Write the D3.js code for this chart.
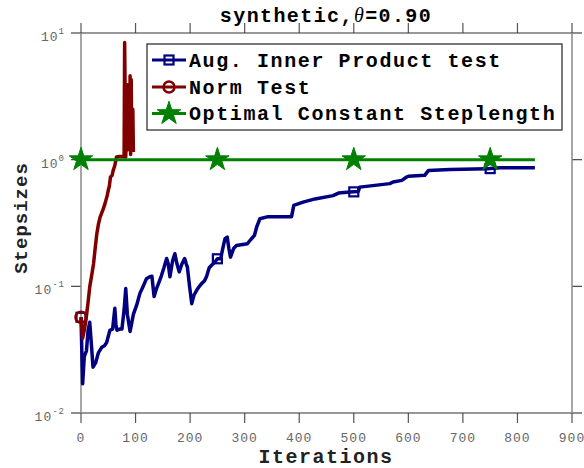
<!DOCTYPE html>
<html><head><meta charset="utf-8">
<script src="https://cdn.jsdelivr.net/npm/d3@7"></script>
<style>body{margin:0;background:#fff}svg{display:block}</style>
</head><body>
<svg id="c" width="584" height="468"></svg>
<script>
// ---- data ----
const seriesNames = ["Aug. Inner Product test", "Norm Test", "Optimal Constant Steplength"];
const blueIter = [0,3,6,10,13,16,19,22,27,32,38,43,47,53,58,62,64,66,71,75,79,82,85,90,96,102,108,114,120,126,130,134,138,142,147,152,157,160,163,168,172,176,180,185,190,193,195,199,203,207,212,217,221,226,230,235,239,245,250,256,260,264,268,271,274,280,285,305,310,318,322,328,343,386,390,407,429,462,472,493,500,508,511,566,572,588,597,600,630,637,676,744,750,768,832];
const blueVal  = [0.057,0.017,0.028,0.031,0.045,0.052,0.035,0.023,0.025,0.030,0.033,0.034,0.036,0.045,0.046,0.067,0.050,0.045,0.046,0.046,0.065,0.096,0.060,0.044,0.060,0.071,0.088,0.100,0.115,0.119,0.120,0.083,0.095,0.105,0.120,0.140,0.166,0.150,0.119,0.160,0.181,0.150,0.130,0.150,0.166,0.150,0.142,0.100,0.073,0.085,0.093,0.100,0.105,0.110,0.119,0.140,0.146,0.155,0.165,0.165,0.200,0.238,0.245,0.200,0.170,0.200,0.210,0.217,0.231,0.253,0.294,0.342,0.355,0.355,0.436,0.462,0.490,0.520,0.545,0.555,0.557,0.560,0.607,0.647,0.666,0.686,0.730,0.740,0.752,0.823,0.838,0.849,0.850,0.864,0.864];
const redIter = [0,3,6,9,13,16,20,23,26,29,32,35,40,44,48,50,52,54,57,59,62,65,70,77,79,80,82,83,85,86,88,89,90,91,92,93,95,96];
const redVal  = [0.057,0.039,0.045,0.054,0.075,0.099,0.125,0.151,0.200,0.260,0.310,0.352,0.400,0.450,0.520,0.573,0.620,0.730,0.750,0.823,0.900,1.050,1.060,1.060,1.050,8.400,1.050,1.500,3.900,1.200,2.000,1.300,4.600,1.100,4.300,1.300,2.500,1.150];
const greenIter = [0,250,500,750,832];
const greenVal  = [1,1,1,1,1];
const markerIters = [0,250,500,750];
const xTicks = [0,100,200,300,400,500,600,700,800,900];
const yTickExps = [-2,-1,0,1];

// ---- layout ----
const svg = d3.select("#c");
const L = 81, R = 572, T = 33, B = 413;
const x = d3.scaleLinear().domain([0,900]).range([L,R]);
const y = d3.scaleLog().domain([0.01,10]).range([B,T]);
const mono = "'Liberation Mono','DejaVu Sans Mono',monospace";

// ticks (outward on all four sides)
const tk = 10;
const g = svg.append("g");
xTicks.forEach(v=>{
  g.append("line").attr("x1",x(v)).attr("x2",x(v)).attr("y1",B).attr("y2",B+tk).attr("stroke","#555").attr("stroke-width",1.2);
  g.append("line").attr("x1",x(v)).attr("x2",x(v)).attr("y1",T).attr("y2",T-tk).attr("stroke","#555").attr("stroke-width",1.2);
  g.append("text").attr("x",x(v)).attr("y",442).attr("text-anchor","middle")
    .attr("font-family",mono).attr("font-size",13).attr("letter-spacing",1).attr("fill","#666").text(v);
});
yTickExps.forEach(e=>{
  const v = Math.pow(10,e);
  g.append("line").attr("x1",L-tk).attr("x2",L).attr("y1",y(v)).attr("y2",y(v)).attr("stroke","#444").attr("stroke-width",1.2);
  g.append("line").attr("x1",R).attr("x2",R+tk).attr("y1",y(v)).attr("y2",y(v)).attr("stroke","#444").attr("stroke-width",1.2);
  const t = g.append("text").attr("x",65).attr("y",y(v)+8).attr("text-anchor","end")
    .attr("font-family",mono).attr("font-size",13).attr("letter-spacing",1).attr("fill","#666");
  t.append("tspan").text("10");
  t.append("tspan").attr("dy",-7).attr("font-size",9).text(e);
});
// axis box
g.append("line").attr("x1",L).attr("x2",R).attr("y1",T).attr("y2",T).attr("stroke","#333").attr("stroke-width",1.2);
g.append("line").attr("x1",L).attr("x2",R).attr("y1",B).attr("y2",B).attr("stroke","#333").attr("stroke-width",1.2);
g.append("line").attr("x1",L).attr("x2",L).attr("y1",T).attr("y2",B).attr("stroke","#888").attr("stroke-width",1.5);
g.append("line").attr("x1",R).attr("x2",R).attr("y1",T).attr("y2",B).attr("stroke","#888").attr("stroke-width",1.5);

// ---- series ----
const series = [
  {name:seriesNames[0], it:blueIter, v:blueVal, color:"#000080", marker:"square", w:3.5},
  {name:seriesNames[1], it:redIter, v:redVal, color:"#800000", marker:"circle", w:3.5},
  {name:seriesNames[2], it:greenIter, v:greenVal, color:"#008000", marker:"star", w:3}
];
const line = d3.line().x(d=>x(d[0])).y(d=>y(d[1]));
const star = d3.symbol().type(d3.symbolStar).size(170);
function drawMarker(sel, type, cx, cy, color){
  if(type==="square"){
    sel.append("rect").attr("x",cx-4.5).attr("y",cy-4.5).attr("width",9).attr("height",9)
      .attr("fill","none").attr("stroke",color).attr("stroke-width",2.2);
  } else if(type==="circle"){
    sel.append("circle").attr("cx",cx).attr("cy",cy).attr("r",5.5)
      .attr("fill","none").attr("stroke",color).attr("stroke-width",2.5);
  } else {
    sel.append("path").attr("d",star()).attr("transform",`translate(${cx},${cy})`)
      .attr("fill",color).attr("stroke",color).attr("stroke-width",1);
  }
}
const plot = svg.append("g");
series.forEach(s=>{
  const pts = s.it.map((t,i)=>[t,s.v[i]]);
  plot.append("path").datum(pts).attr("d",line).attr("fill","none")
    .attr("stroke",s.color).attr("stroke-width",s.w).attr("stroke-linejoin","round");
  markerIters.forEach(m=>{
    const i = s.it.indexOf(m);
    if(i>=0) drawMarker(plot, s.marker, x(m), y(s.v[i]), s.color);
  });
});

// ---- legend ----
const lg = svg.append("g");
lg.append("rect").attr("x",147).attr("y",44).attr("width",415).attr("height",86)
  .attr("fill","#fff").attr("stroke","#222").attr("stroke-width",1.2);
const rows = [60,87,113.5];
series.forEach((s,i)=>{
  const ry = rows[i];
  lg.append("line").attr("x1",152).attr("x2",186).attr("y1",ry).attr("y2",ry).attr("stroke",s.color).attr("stroke-width",3);
  drawMarker(lg, s.marker, 169, ry, s.color);
  lg.append("text").attr("x",189).attr("y",ry+6.5).attr("font-family",mono).attr("font-weight","bold")
    .attr("font-size",20).attr("letter-spacing",1.6).attr("fill","#000").text(s.name);
});

// ---- titles ----
const title = svg.append("text").attr("x",326).attr("y",22).attr("text-anchor","middle")
  .attr("font-family",mono).attr("font-weight","bold").attr("font-size",20).attr("letter-spacing",1.4).attr("fill","#000");
title.append("tspan").text("synthetic,");
title.append("tspan").attr("font-family","'Liberation Serif',serif").attr("font-style","italic").attr("font-weight","normal").text("θ");
title.append("tspan").text("=0.90");
svg.append("text").attr("x",326).attr("y",463).attr("text-anchor","middle")
  .attr("font-family",mono).attr("font-weight","bold").attr("font-size",20).attr("letter-spacing",1.5).attr("fill","#222").text("Iterations");
svg.append("text").attr("transform","translate(27,218) rotate(-90)").attr("text-anchor","middle")
  .attr("font-family",mono).attr("font-weight","bold").attr("font-size",19).attr("letter-spacing",1).attr("fill","#222").text("Stepsizes");
</script>
</body></html>
